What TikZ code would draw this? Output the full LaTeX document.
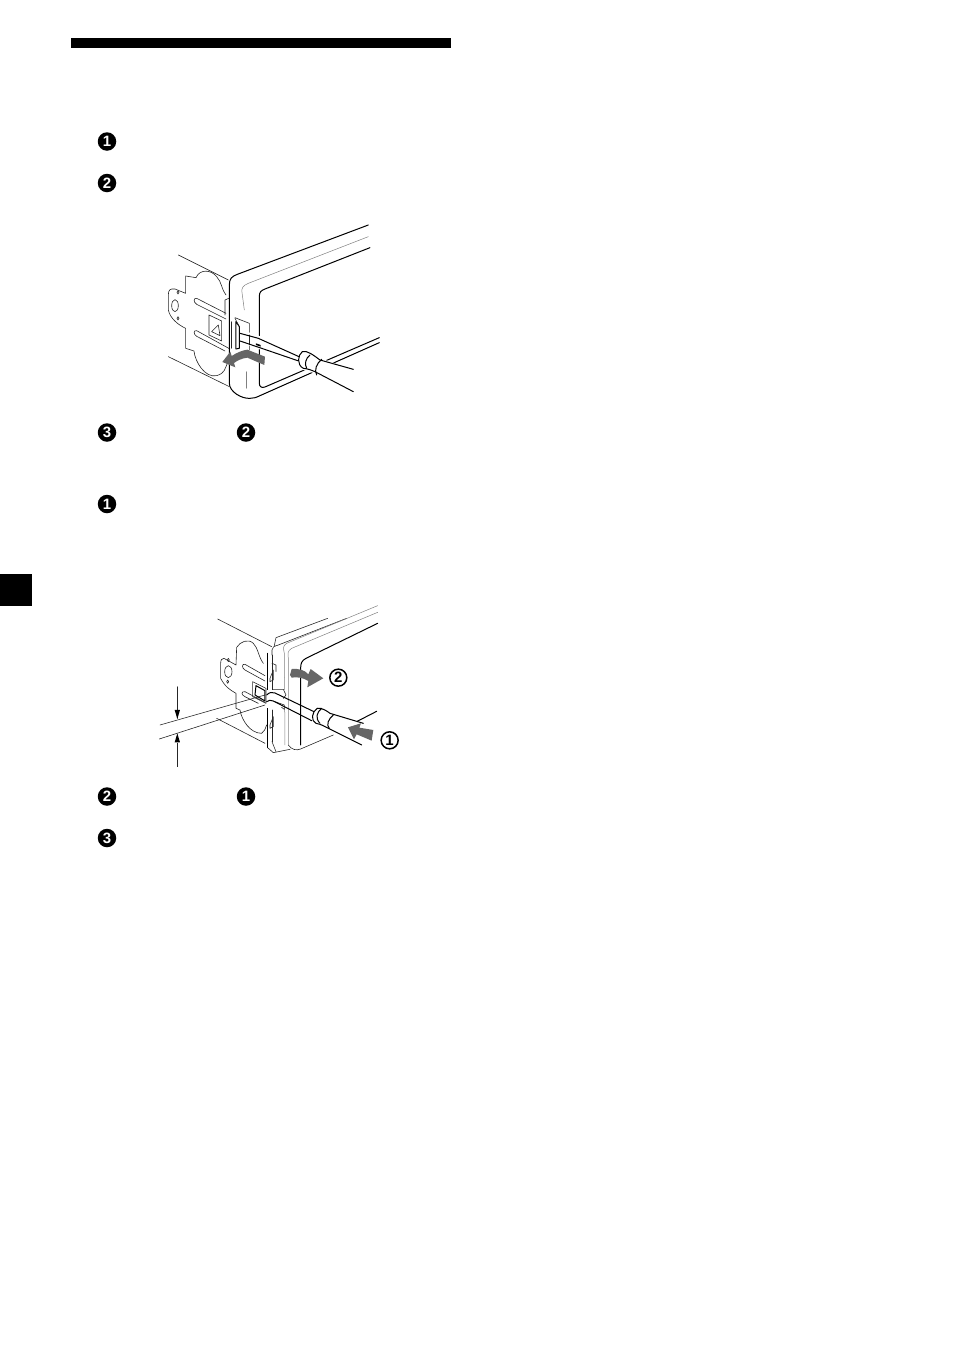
\documentclass[tikz,border=0pt]{standalone}
\usepackage{fontspec}
\setmainfont{Liberation Sans}
\tikzset{
 badge/.style={circle,fill=black,text=white,minimum size=18.5pt,inner sep=0pt,font=\fontsize{15}{15}\selectfont\bfseries},
 ring/.style={circle,draw=black,line width=1.5pt,fill=white,text=black,minimum size=17pt,inner sep=0pt,font=\fontsize{15}{15}\selectfont\bfseries},
 thin line/.style={line width=0.6pt,black!85},
 heavy/.style={line width=1pt,black},
 soft/.style={line width=0.5pt,black!50},
 grayarrow/.style={fill=black!60,draw=none},
}
\begin{document}
\begin{tikzpicture}[x=1pt,y=-1pt,line join=round,line cap=round]
\useasboundingbox (0,0) rectangle (954,1352);
\fill[black] (71,38) rectangle (451,48);
\fill[black] (0,574) rectangle (32,606);
\node[badge] (b1) at (107,141.5) {1};
\node[badge] (b2) at (107,183) {2};
\node[badge] (b3) at (107,432.5) {3};
\node[badge] (b4) at (246,432.5) {2};
\node[badge] (b5) at (107,504) {1};
\node[badge] (b6) at (107,796.5) {2};
\node[badge] (b7) at (246,796.5) {1};
\node[badge] (b8) at (107,838) {3};
% figure 1
\begin{scope}[xshift=150pt,yshift=-215pt,x=0.3333pt,y=-0.3333pt]
\draw[thin line] (85,120)--(235,195);
\draw[thin line] (55,425)--(238,515);
% bracket
\draw[thin line] (228,240) .. controls (215,225) and (215,200) .. (200,185) .. controls (185,165) and (150,160) .. (138,188) -- (107,183) -- (107,235) -- (75,222) .. controls (60,220) and (55,225) .. (55,240) -- (55,285) .. controls (60,310) and (85,330) .. (107,340) -- (107,400) -- (132,408) .. controls (135,440) and (165,490) .. (200,482) .. controls (225,475) and (225,460) .. (232,445);
\draw[thin line] (75,272) ellipse (10 and 18);
\draw[thin line] (84,232) ellipse (3 and 5);
\draw[thin line] (84,310) ellipse (3 and 5);
\draw[thin line] (228,295)--(140,250) .. controls (130,248) and (130,262) .. (140,268) -- (228,312);
\draw[thin line] (240,402)--(140,347) .. controls (130,345) and (130,358) .. (140,364) -- (225,408);
\draw[thin line] (177,300)--(215,318)--(215,378)--(177,360)--cycle;
\draw[thin line] (205,330)--(185,350)--(210,362)--cycle;
\draw[thin line] (225,255)--(236,250) (225,255)--(225,300);
% housing
\draw[heavy] (655,30)--(262,178) .. controls (245,184) and (238,192) .. (238,210) -- (238,505) .. controls (238,530) and (275,552) .. (300,550) .. controls (310,550) and (318,548) .. (330,542) -- (688,383);
\draw[soft] (655,65)--(295,205) .. controls (278,212) and (274,220) .. (276,232) -- (283,285);
\draw[soft] (290,470)--(290,520);
\draw[heavy] (660,98)--(345,222) .. controls (332,227) and (328,232) .. (328,245) -- (328,505) .. controls (328,515) and (335,520) .. (345,516) -- (688,368);
\fill[white] (250,305) rectangle (325,400);
\draw[thin line] (255,308)--(298,325)--(298,405);
\draw[thin line] (245,320)--(245,400);
\draw[heavy] (258,320)--(258,402)--(268,400)--(268,335)--(258,320);
\draw[thin line] (255,310)--(268,335);
% screwdriver
\fill[white] (275,345)--(325,362)--(457,410)--(510,430)--(612,463)--(610,530)--(495,475)--(460,465)--(335,405)--(275,385)--cycle;
\draw[thin line] (298,360)--(298,390);
\draw[heavy] (270,355)--(325,370)--(447,425);
\draw[heavy] (270,378)--(335,400)--(443,437);
\fill (318,385)--(332,390)--(332,395)--(318,390)--cycle;
\draw[heavy] (457,410) .. controls (470,405) and (490,420) .. (510,435) -- (610,463);
\draw[heavy] (457,410) .. controls (443,420) and (440,450) .. (460,460) .. controls (475,462) and (485,465) .. (495,470) -- (610,530);
\draw[heavy] (480,420) .. controls (468,430) and (462,445) .. (470,460);
\draw[heavy] (515,433) .. controls (500,445) and (492,465) .. (500,480);
\fill[grayarrow] (345,425)--(343,450)--(292,428) .. controls (275,430) and (262,437) .. (252,444)--(256,457)--(217,441)--(241,410)--(245,423) .. controls (262,412) and (278,406) .. (292,404)--cycle;
\end{scope}
% figure 2
\begin{scope}[xshift=150pt,yshift=-595pt,x=0.3333pt,y=-0.3333pt]
\draw[thin line] (203,72)--(365,155);
\draw[thin line] (200,370)--(345,445);
\draw[thin line] (30,390)--(345,300);
\draw[thin line] (28,432)--(345,330);
\draw[thin line] (82,275)--(82,370);
\draw[thin line] (82,445)--(82,515);
\fill (82,372)--(74,345)--(90,345)--cycle;
\fill (82,415)--(74,442)--(90,442)--cycle;
\draw[thin line] (340,205) .. controls (325,185) and (325,160) .. (310,145) .. controls (295,130) and (270,140) .. (260,157) -- (258,210) -- (222,190) .. controls (215,190) and (212,195) .. (212,205) -- (212,250) .. controls (225,275) and (240,285) .. (258,295) -- (258,340) -- (270,345) .. controls (275,375) and (300,415) .. (335,415) .. controls (345,410) and (345,400) .. (350,390);
\draw[thin line] (235,230) ellipse (11 and 18);
\draw[thin line] (235,195) ellipse (3 and 5);
\draw[thin line] (233,260) ellipse (3 and 5);
\draw[thin line] (345,242)--(285,208) .. controls (275,205) and (275,220) .. (285,225) -- (345,258);
\draw[thin line] (345,322)--(285,290) .. controls (273,288) and (273,300) .. (285,305) -- (325,325);
\draw[thin line] (308,260)--(348,280)--(348,325)--(308,305)--cycle;
\draw[heavy] (318,272)--(345,287)--(345,318)--(315,300)--cycle;
% plates
\draw[thin line] (533,70)--(378,128)--(373,152);
\draw[thin line] (590,70)--(385,150) .. controls (372,154) and (366,156) .. (366,165) -- (366,180);
\draw[soft] (683,32)--(410,145) .. controls (398,152) and (400,160) .. (403,175) -- (405,450);
\draw[soft] (683,52)--(425,160) .. controls (412,168) and (414,175) .. (415,190) -- (415,450);
\draw[heavy] (683,85)--(468,190) .. controls (455,197) and (452,205) .. (452,220) -- (452,450);
\draw[thin line] (415,450) .. controls (425,465) and (440,467) .. (452,462)--(550,420);
\draw[heavy] (353,175)--(353,458);
\draw[thin line] (353,458)--(370,473)--(420,463);
\draw[thin line] (366,180)--(366,290) (366,345)--(366,440);
\draw[thin line] (360,250)--(370,225)--(370,255)--(360,260)--cycle;
\draw[thin line] (360,390)--(370,365)--(370,395)--(360,400)--cycle;
\draw[thin line] (366,205)--(378,210)--(378,230);
\draw[thin line] (366,440)--(378,470);
\draw[heavy] (610,385)--(680,349);
% clips
\fill[white] (352,285) rectangle (410,340);
\draw[thin line] (370,283)--(400,283)--(408,300)--(400,310);
\draw[thin line] (375,320)--(403,330)--(403,343)--(395,337);
% screwdriver
\draw[heavy] (350,300) .. controls (358,292) and (366,290) .. (375,294) -- (492,350);
\draw[heavy] (350,320) .. controls (356,315) and (362,315) .. (370,318) -- (485,377);
\fill[white] (502,340)--(640,385)--(635,450)--(535,400)--(490,380)--cycle;
\draw[heavy] (502,340) .. controls (515,338) and (530,347) .. (540,355) -- (640,385);
\draw[heavy] (502,340) .. controls (485,350) and (482,378) .. (498,385) .. controls (515,388) and (525,395) .. (535,400) -- (635,450);
\draw[heavy] (515,340) .. controls (500,352) and (495,370) .. (510,385);
\draw[heavy] (550,360) .. controls (535,372) and (528,390) .. (538,400);
\fill[grayarrow] (670,405)--(665,437)--(620,418)--(612,433)--(594,397)--(633,385)--(628,398)--cycle;
\fill[grayarrow] (425,222) .. controls (445,220) and (465,225) .. (475,238) -- (482,222) -- (520,250) -- (472,277) -- (475,258) .. controls (460,248) and (440,245) .. (425,248) -- (420,240) -- cycle;
\node[ring] (r2) at (565,248) {2};
\node[ring] (r1) at (719,436) {1};
\end{scope}
\end{tikzpicture}
\end{document}
